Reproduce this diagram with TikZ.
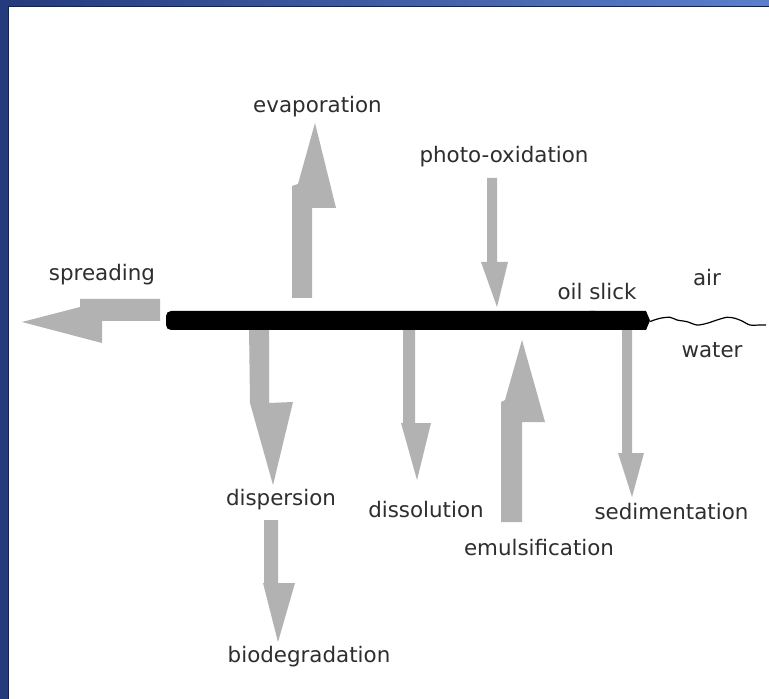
\documentclass[tikz,border=0pt]{standalone}
\usepackage{fontspec}
\setmainfont{DejaVu Sans}
\usepackage{xcolor}
\usepackage{tikz}
\definecolor{framenavy}{rgb}{0.14,0.23,0.49}
\definecolor{frameblue}{rgb}{0.36,0.50,0.80}
\definecolor{flowgray}{rgb}{0.70,0.70,0.70}
\definecolor{textgray}{rgb}{0.18,0.18,0.18}

\begin{document}
\begin{tikzpicture}[x=0.5pt,y=-0.5pt,
        proc/.style={font=\fontsize{10.7}{13}\selectfont, text=textgray, inner sep=0pt},
        flow/.style={fill=flowgray, draw=none}]
        \useasboundingbox (0,0) rectangle (769,699);
        % Frame
        \fill[white] (0,0) rectangle (769,699);
        \shade[left color=framenavy, right color=frameblue] (0,0) rectangle (769,7);
        \fill[framenavy] (0,0) rectangle (8,699);
        \draw[framenavy!60!black, line width=0.5pt] (8,699) -- (8,7) -- (769,7);

        % Process arrows
        \fill[flow] (80,299) -- (160,299) -- (160,321) -- (102,321) -- (102,343) -- (22,322) -- (80,307) -- cycle; % spreading
        \fill[flow] (292,298) -- (292,186) -- (298,184) -- (315,123) -- (336,208) -- (312,208) -- (312,298) -- cycle; % evaporation
        \fill[flow] (487,178) -- (497,178) -- (497,262) -- (508,262) -- (497,307) -- (481,262) -- (487,262) -- cycle; % photo-oxidation
        \fill[flow] (249,326) -- (269,326) -- (269,403) -- (293,402) -- (273,485) -- (250,403) -- cycle; % dispersion
        \fill[flow] (403,326) -- (415,326) -- (415,423) -- (431,423) -- (417,480) -- (401,423) -- (403,423) -- cycle; % dissolution
        \fill[flow] (501,522) -- (501,402) -- (505,400) -- (522,340) -- (545,422) -- (522,422) -- (522,522) -- cycle; % emulsification
        \fill[flow] (622,326) -- (632,326) -- (632,453) -- (644,453) -- (632,497) -- (618,453) -- (622,453) -- cycle; % sedimentation
        \fill[flow] (264,520) -- (278,520) -- (278,583) -- (295,583) -- (278,642) -- (263,583) -- (264,583) -- cycle; % biodegradation

        % Oil slick
        \fill[black, rounded corners=2.5pt] (166,311) rectangle (600,330);
        \fill[black] (590,311) -- (646,311) -- (650,320.5) -- (646,330) -- (590,330) -- cycle;

        % Water surface
        \draw[black, line width=0.6pt] plot[smooth] coordinates {(650,321.5) (660,318.3) (670,317.3) (677,320) (687,321.7) (697,325) (707,323.3) (717,320) (727,317.3) (735,318.3) (742,321) (750,325) (760,325) (766,325)};

        % Labels
        \node[proc] (spread) at (102,275) {spreading};
        \node[proc] (evap) at (317.5,107) {evaporation};
        \node[proc] (photo) at (504,157) {photo-oxidation};
        \node[proc] (slick) at (597,292) {oil slick};
        \node[proc] (air) at (707,278) {air};
        \node[proc] (water) at (712,350) {water};
        \node[proc] (disp) at (281,500) {dispersion};
        \node[proc] (dissol) at (426,510) {dissolution};
        \node[proc] (sedim) at (671.5,512) {sedimentation};
        \node[proc] (emuls) at (539,548) {emulsification};
        \node[proc] (biodeg) at (309,657) {biodegradation};
\end{tikzpicture}
\end{document}
